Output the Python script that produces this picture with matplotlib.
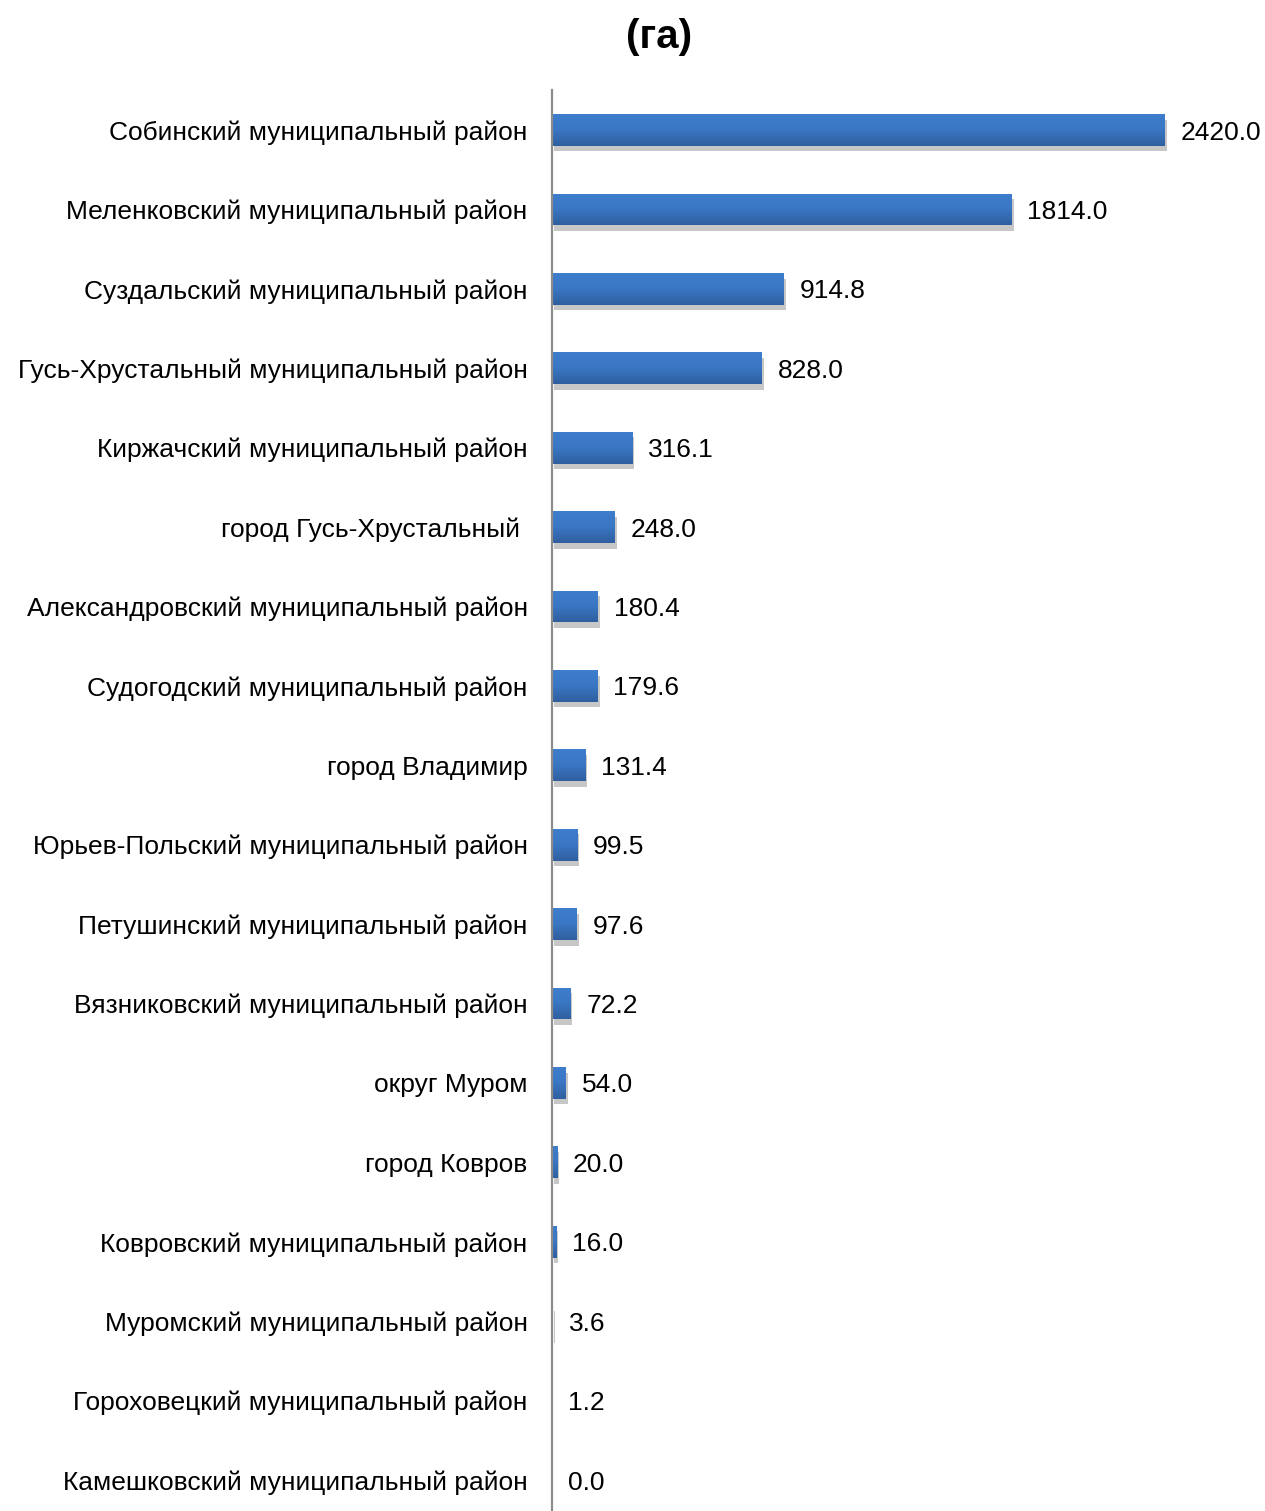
import matplotlib
matplotlib.use("Agg")
import matplotlib.pyplot as plt
import numpy as np
from matplotlib import patheffects as pe
from matplotlib.colors import LinearSegmentedColormap

categories = [
    "Собинский муниципальный район",
    "Меленковский муниципальный район",
    "Суздальский муниципальный район",
    "Гусь-Хрустальный муниципальный район",
    "Киржачский муниципальный район",
    "город Гусь-Хрустальный ",
    "Александровский муниципальный район",
    "Судогодский муниципальный район",
    "город Владимир",
    "Юрьев-Польский муниципальный район",
    "Петушинский муниципальный район",
    "Вязниковский муниципальный район",
    "округ Муром",
    "город Ковров",
    "Ковровский муниципальный район",
    "Муромский муниципальный район",
    "Гороховецкий муниципальный район",
    "Камешковский муниципальный район",
]
values = [2420.0, 1814.0, 914.8, 828.0, 316.1, 248.0, 180.4, 179.6, 131.4,
          99.5, 97.6, 72.2, 54.0, 20.0, 16.0, 3.6, 1.2, 0.0]
title = "(га)"

plt.rcParams['font.family'] = ['Liberation Sans', 'DejaVu Sans']

W, H = 1265, 1511
fig = plt.figure(figsize=(W / 100, H / 100), dpi=100)
left = 552 / W
top = 90 / H
ax = fig.add_axes([left, 0.0, 1.0 - left, 1.0 - top])

y = np.arange(len(categories))
bh = 0.40
bars = ax.barh(y, values, height=bh, color='#3a74bf', edgecolor='none',
               path_effects=[pe.SimplePatchShadow(offset=(1.5, -4), shadow_rgbFace='0.45', alpha=0.4),
                             pe.Normal()], zorder=2)

cmap = LinearSegmentedColormap.from_list('g', ['#3e7ecd', '#3a76c3', '#2f5f9f'])
grad = np.linspace(0, 1, 64).reshape(-1, 1)
for b, v in zip(bars, values):
    if v <= 0:
        continue
    x0, y0 = b.get_x(), b.get_y()
    w, h = b.get_width(), b.get_height()
    im = ax.imshow(grad, cmap=cmap, aspect='auto', extent=(x0, x0 + w, y0 + h, y0),
                   zorder=3, interpolation='bilinear')
    im.set_clip_path(b)

ax.set_xlim(0, (W - 552) / ((1165 - 552) / 2420.0))
ax.set_ylim(17.39, -0.504)
ax.set_yticks(y)
ax.set_yticklabels(categories, fontsize=19)
ax.tick_params(axis='y', length=0, pad=17.5)
ax.set_xticks([])
for s in ['top', 'right', 'bottom']:
    ax.spines[s].set_visible(False)
ax.spines['left'].set_color('#8c8c8c')
ax.spines['left'].set_linewidth(1.6)
ax.spines['left'].set_zorder(5)

for yi, v in zip(y, values):
    ax.annotate(f"{v:.1f}", xy=(v, yi), xytext=(11.5, 0), textcoords='offset points',
                va='center_baseline', ha='left', fontsize=19)

fig.text(659 / W, 1 - 37 / H, title, ha='center', va='center', fontsize=29, fontweight='bold')

fig.savefig('out.png', dpi=100)
